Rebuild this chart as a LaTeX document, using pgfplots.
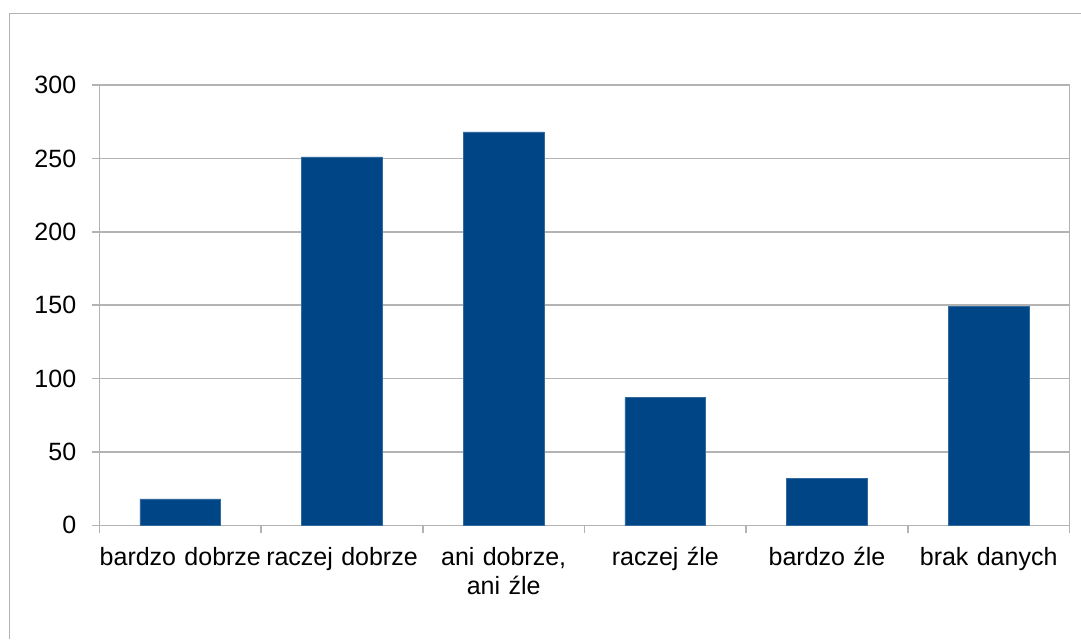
\documentclass[border=0pt]{standalone}
\usepackage{pgfplots}
\pgfplotsset{compat=1.18}
\usepackage{fontspec}
\setmainfont{Liberation Sans}
\definecolor{barblue}{HTML}{004586}
\definecolor{gridgray}{HTML}{B3B3B3}
\newcommand\st{\rule{0pt}{12pt}}
\begin{document}
\fontsize{12.5pt}{14.5pt}\selectfont
\begin{tikzpicture}
\useasboundingbox (0pt,0pt) rectangle (540.5pt,-319.5pt);
\draw[gridgray,line width=0.8pt] (4.75pt,-319.5pt) -- (4.75pt,-6.75pt) -- (540.5pt,-6.75pt);
\begin{axis}[
  at={(49.75pt,-262.65pt)}, anchor=south west,
  scale only axis,
  width=485pt, height=220.15pt,
  ymin=0, ymax=300,
  xmin=0.5, xmax=6.5,
  ytick={0,50,...,300},
  xtick={1,...,6},
  xticklabels={\st bardzo dobrze,\st raczej dobrze,{\st ani dobrze,\\ani źle},\st raczej źle,\st bardzo źle,\st brak danych},
  xticklabel style={align=center, text width=90pt, yshift=0pt},
  minor xtick={0.5,1.5,...,6.5},
  major x tick style={draw=none},
  minor tick length=4pt,
  major tick length=3.8pt,
  tick align=outside,
  xtick pos=bottom, ytick pos=left,
  tick style={gridgray, line width=0.8pt},
  ymajorgrids,
  major grid style={gridgray, line width=0.8pt},
  axis line style={gridgray, line width=0.8pt},
  yticklabel style={xshift=-3.5pt},
  /pgf/number format/assume math mode=true,
  ybar, bar width=0.5,
  bar shift=0pt,
]
\addplot[fill=barblue, draw=barblue!80!white, line width=0.3pt] coordinates {
  (1,18) (2,251) (3,268) (4,87) (5,32) (6,149)
};
\end{axis}
\end{tikzpicture}
\end{document}
